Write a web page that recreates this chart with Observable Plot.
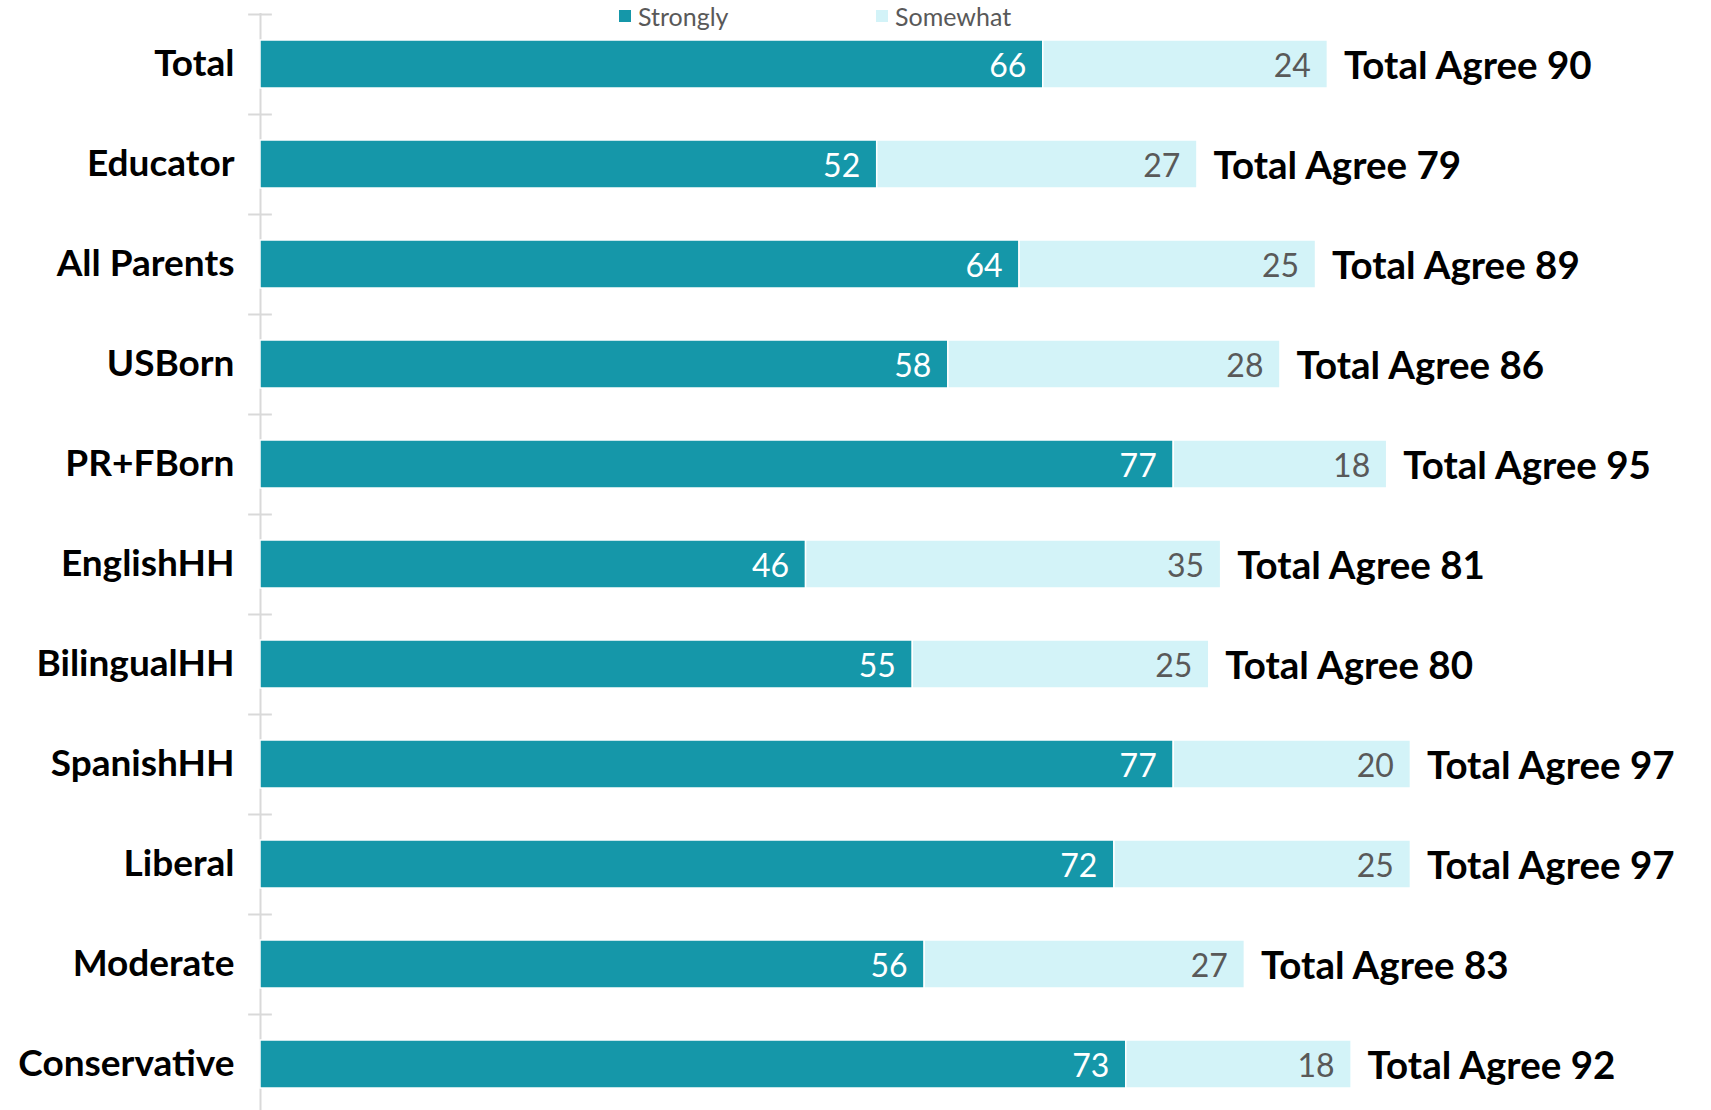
<!DOCTYPE html>
<html>
<head>
<meta charset="utf-8">
<script src="https://cdn.jsdelivr.net/npm/d3@7"></script>
<script src="https://cdn.jsdelivr.net/npm/@observablehq/plot@0.6"></script>
<style>
  html, body { margin: 0; padding: 0; background: #fff; }
  #wrap { position: relative; width: 1711px; height: 1110px; overflow: hidden; font-family: Lato, "Open Sans", sans-serif; }
  .leg { position: absolute; top: 1px; display: flex; align-items: center; font-size: 25px; color: #595959; }
  .sw { width: 12px; height: 12px; margin-right: 7px; }
</style>
</head>
<body>
<div id="wrap"></div>
<script>
const categories = ["Total", "Educator", "All Parents", "USBorn", "PR+FBorn", "EnglishHH", "BilingualHH", "SpanishHH", "Liberal", "Moderate", "Conservative"];
const strongly = [66, 52, 64, 58, 77, 46, 55, 77, 72, 56, 73];
const somewhat = [24, 27, 25, 28, 18, 35, 25, 20, 25, 27, 18];
const totalAgree = [90, 79, 89, 86, 95, 81, 80, 97, 97, 83, 92];
const seriesNames = ["Strongly", "Somewhat"];
const seriesColors = ["#1597a9", "#d3f3f8"];

const rows = categories.map((c, i) => ({category: c, strongly: strongly[i], somewhat: somewhat[i], total: totalAgree[i]}));
const long = rows.flatMap(r => [
  {category: r.category, series: "Strongly", x1: 0, x2: r.strongly, value: r.strongly},
  {category: r.category, series: "Somewhat", x1: r.strongly, x2: r.total, value: r.somewhat}
]);

const chart = Plot.plot({
  width: 1711,
  height: 1110,
  marginLeft: 260,
  marginRight: 265,
  marginTop: 13,
  marginBottom: -4,
  style: {fontFamily: "Lato, 'Open Sans', sans-serif", background: "#fff"},
  x: {domain: [0, 100], axis: null},
  y: {domain: categories, paddingInner: 0.52, paddingOuter: 0.26, axis: null},
  color: {domain: seriesNames, range: seriesColors},
  marks: [
    Plot.ruleX([0], {stroke: "#d9d9d9", strokeWidth: 2}),
    Plot.ruleY(categories, {y: d => d, x1: -1, x2: 1, dy: -50, stroke: "#d9d9d9", strokeWidth: 2}),
    Plot.barX(long, {y: "category", x1: "x1", x2: "x2", fill: "series", stroke: "#fff", strokeWidth: 1.5}),
    Plot.text(long, {y: "category", x: "x2", text: d => String(d.value), textAnchor: "end", dx: -17, dy: 2,
      fill: d => d.series === "Strongly" ? "#ffffff" : "#595959", fontSize: 32}),
    Plot.text(rows, {y: "category", x: "total", text: d => "Total Agree " + d.total, textAnchor: "start", dx: 16, dy: 2,
      fill: "#000", fontSize: 38.5, fontWeight: "bold"}),
    Plot.axisY({tickSize: 0, tickPadding: 26, fontSize: 37, fontWeight: "bold", color: "#000", dy: 0, label: null})
  ]
});

const wrap = document.getElementById("wrap");
wrap.appendChild(chart);
const legendLeft = [619, 876];
seriesNames.forEach((n, i) => {
  const d = document.createElement("div");
  d.className = "leg";
  d.style.left = legendLeft[i] + "px";
  d.innerHTML = `<span class="sw" style="background:${seriesColors[i]}"></span><span>${n}</span>`;
  wrap.appendChild(d);
});
</script>
</body>
</html>
